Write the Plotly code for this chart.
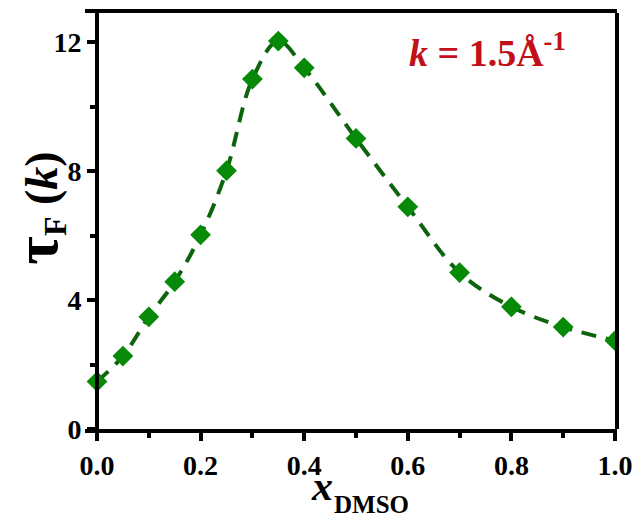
import plotly.graph_objects as go

x_dmso = [0.0, 0.05, 0.1, 0.15, 0.2, 0.25, 0.3, 0.35, 0.4, 0.5, 0.6, 0.7, 0.8, 0.9, 1.0]
tau_f = [1.47, 2.26, 3.48, 4.57, 6.02, 8.01, 10.85, 12.03, 11.2, 9.01, 6.89, 4.85, 3.79, 3.16, 2.74]

x_ticks = [0.0, 0.2, 0.4, 0.6, 0.8, 1.0]
x_ticklabels = ["0.0", "0.2", "0.4", "0.6", "0.8", "1.0"]
y_ticks = [0, 4, 8, 12]
y_ticklabels = ["0", "4", "8", "12"]

SERIF = "Liberation Serif, Times New Roman, serif"

fig = go.Figure()
fig.add_trace(go.Scatter(
    x=x_dmso, y=tau_f, mode="lines+markers",
    line=dict(shape="spline", smoothing=1.0, color="#0d640d", width=4, dash="15px,10px"),
    marker=dict(symbol="diamond", size=16, color="#078a07"),
    showlegend=False,
))

fig.update_layout(
    template="none",
    width=639, height=520,
    margin=dict(l=85, r=22, t=13, b=91, autoexpand=False),
    plot_bgcolor="white", paper_bgcolor="white",
    font=dict(family=SERIF, color="black"),
    xaxis=dict(
        range=[-0.0232, 1.0039], showgrid=False, zeroline=False, automargin=False,
        showline=True, linewidth=4, linecolor="black", mirror=True,
        tickmode="array", tickvals=x_ticks, ticktext=[f"<b>{t}</b>" for t in x_ticklabels],
        ticks="outside", ticklen=8, tickwidth=4, tickcolor="black",
        minor=dict(dtick=0.1, ticks="outside", ticklen=5, tickwidth=4, tickcolor="black"),
        tickfont=dict(size=28, family=SERIF, color="black"),
    ),
    yaxis=dict(
        range=[0, 12.9], showgrid=False, zeroline=False, automargin=False,
        anchor="free", position=12/532,
        showline=True, linewidth=4, linecolor="black",
        tickmode="array", tickvals=y_ticks, ticktext=[f"<b>{t}</b>" for t in y_ticklabels],
        ticks="outside", ticklen=8, tickwidth=4, tickcolor="black",
        minor=dict(dtick=2, ticks="outside", ticklen=5, tickwidth=4, tickcolor="black"),
        tickfont=dict(size=28, family=SERIF, color="black"),
    ),
    shapes=[dict(type="line", xref="paper", yref="paper", x0=1, x1=1, y0=0, y1=1,
                 line=dict(color="black", width=4))],
    annotations=[
        dict(text='<b><span style="font-size:62px">τ</span><sub><span style="font-size:32px">F</span></sub> (<i>k</i>)</b>',
             xref="paper", yref="paper", x=-0.09, y=0.53, xanchor="center", yanchor="middle",
             textangle=-90, showarrow=False, font=dict(size=46, family=SERIF, color="black")),
        dict(text='<b><i>x</i></b>',
             xref="paper", yref="paper", x=0.468, y=-0.137, xanchor="right", yanchor="middle",
             showarrow=False, borderpad=0, font=dict(size=42, family=SERIF, color="black")),
        dict(text='<b>DMSO</b>',
             xref="paper", yref="paper", x=0.466, y=-0.181, xanchor="left", yanchor="middle",
             showarrow=False, borderpad=0, font=dict(size=25, family=SERIF, color="black")),
        dict(text='<b><i>k</i> = 1.5Å<sup>-1</sup></b>',
             xref="paper", yref="paper", x=0.757, y=0.91, xanchor="center", yanchor="middle",
             showarrow=False, font=dict(size=38, family=SERIF, color="#c0101a")),
    ],
)

fig.write_html("out.html")
